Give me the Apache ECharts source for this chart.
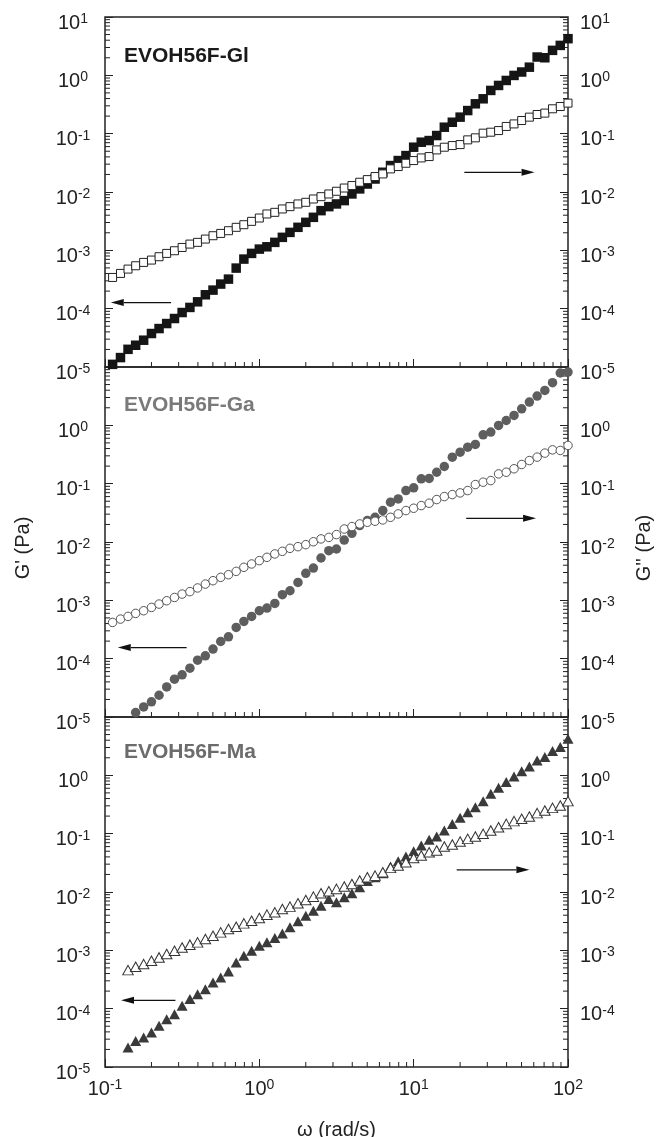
<!DOCTYPE html>
<html>
<head>
<meta charset="utf-8">
<script src="https://cdn.jsdelivr.net/npm/echarts@6/dist/echarts.min.js"></script>
<style>
  html, body { margin: 0; padding: 0; background: #fff; }
  #main { width: 657px; height: 1137px; }
</style>
</head>
<body>
<div id="main"></div>
<script>
// frequency sweep, rad/s (20 points per decade)
var omega = [0.112, 0.126, 0.141, 0.158, 0.178, 0.200, 0.224, 0.251, 0.282, 0.316,
  0.355, 0.398, 0.447, 0.501, 0.562, 0.631, 0.708, 0.794, 0.891, 1.00,
  1.12, 1.26, 1.41, 1.58, 1.78, 2.00, 2.24, 2.51, 2.82, 3.16,
  3.55, 3.98, 4.47, 5.01, 5.62, 6.31, 7.08, 7.94, 8.91, 10.0,
  11.2, 12.6, 14.1, 15.8, 17.8, 20.0, 22.4, 25.1, 28.2, 31.6,
  35.5, 39.8, 44.7, 50.1, 56.2, 63.1, 70.8, 79.4, 89.1, 100];
var omegaMa = omega.slice(2);

// EVOH56F-Gl
var glStorage = [1.11e-5, 1.45e-5, 2.01e-5, 2.36e-5, 2.88e-5, 3.75e-5, 4.56e-5, 5.56e-5, 6.78e-5, 8.59e-5,
  1.05e-4, 1.31e-4, 1.73e-4, 2.08e-4, 2.64e-4, 3.21e-4, 4.96e-4, 7.08e-4, 8.86e-4, 1.05e-3,
  1.15e-3, 1.37e-3, 1.67e-3, 2.03e-3, 2.48e-3, 3.02e-3, 3.68e-3, 4.79e-3, 5.61e-3, 6.24e-3,
  7.12e-3, 9.26e-3, 1.13e-2, 1.37e-2, 1.67e-2, 2.18e-2, 2.84e-2, 3.46e-2, 4.21e-2, 5.86e-2,
  7.14e-2, 7.62e-2, 9.29e-2, 0.129, 0.157, 0.192, 0.249, 0.325, 0.396, 0.551,
  0.671, 0.817, 0.996, 1.14, 1.38, 2.06, 2.00, 2.68, 3.26, 4.25];
var glLoss = [3.43e-4, 4.02e-4, 4.77e-4, 5.44e-4, 6.21e-4, 6.81e-4, 7.77e-4, 8.86e-4, 9.84e-4, 1.12e-3,
  1.28e-3, 1.37e-3, 1.56e-3, 1.78e-3, 1.95e-3, 2.17e-3, 2.48e-3, 2.75e-3, 3.14e-3, 3.58e-3,
  4.20e-3, 4.48e-3, 5.12e-3, 5.61e-3, 6.24e-3, 6.66e-3, 7.59e-3, 8.32e-3, 9.25e-3, 1.03e-2,
  1.17e-2, 1.29e-2, 1.47e-2, 1.63e-2, 1.84e-2, 2.04e-2, 2.49e-2, 2.73e-2, 3.11e-2, 3.46e-2,
  3.84e-2, 4.05e-2, 5.27e-2, 5.86e-2, 6.25e-2, 6.50e-2, 7.83e-2, 8.48e-2, 0.102, 0.106,
  0.113, 0.133, 0.147, 0.168, 0.192, 0.213, 0.225, 0.267, 0.292, 0.334];

// EVOH56F-Ga
var gaStorage = [8.4e-6, 8.9e-6, 9.5e-6, 1.19e-5, 1.49e-5, 1.82e-5, 2.36e-5, 3.28e-5, 4.45e-5, 5.28e-5,
  6.87e-5, 9.42e-5, 1.12e-4, 1.46e-4, 1.97e-4, 2.37e-4, 3.43e-4, 4.35e-4, 5.30e-4, 6.63e-4,
  7.36e-4, 8.86e-4, 1.25e-3, 1.46e-3, 2.03e-3, 2.90e-3, 3.58e-3, 5.32e-3, 7.11e-3, 7.59e-3,
  1.08e-2, 1.41e-2, 1.91e-2, 2.33e-2, 2.65e-2, 3.46e-2, 4.81e-2, 5.48e-2, 7.62e-2, 8.48e-2,
  0.121, 0.123, 0.157, 0.197, 0.285, 0.347, 0.423, 0.470, 0.689, 0.766,
  0.996, 1.21, 1.48, 1.92, 2.50, 3.18, 3.97, 5.38, 7.89, 8.20];
var gaLoss = [4.18e-4, 4.77e-4, 5.30e-4, 5.97e-4, 6.63e-4, 7.56e-4, 8.63e-4, 9.84e-4, 1.12e-3, 1.28e-3,
  1.41e-3, 1.63e-3, 1.90e-3, 2.17e-3, 2.48e-3, 2.75e-3, 3.14e-3, 3.68e-3, 4.20e-3, 4.79e-3,
  5.46e-3, 6.24e-3, 6.92e-3, 7.79e-3, 8.32e-3, 9.01e-3, 1.01e-2, 1.13e-2, 1.20e-2, 1.34e-2,
  1.67e-2, 1.84e-2, 2.04e-2, 2.18e-2, 2.27e-2, 2.39e-2, 2.65e-2, 3.03e-2, 3.46e-2, 3.79e-2,
  4.21e-2, 4.62e-2, 5.34e-2, 6.01e-2, 6.50e-2, 6.95e-2, 7.62e-2, 9.66e-2, 0.106, 0.113,
  0.147, 0.157, 0.180, 0.213, 0.249, 0.285, 0.334, 0.380, 0.371, 0.452];

// EVOH56F-Ma
var maStorage = [2.15e-5, 2.80e-5, 3.20e-5, 3.90e-5, 5.07e-5, 6.61e-5, 8.05e-5, 1.12e-4, 1.46e-4, 1.77e-4,
  2.16e-4, 2.81e-4, 3.43e-4, 4.35e-4, 6.21e-4, 8.07e-4, 9.84e-4, 1.20e-3, 1.37e-3, 1.63e-3,
  1.95e-3, 2.48e-3, 3.14e-3, 3.93e-3, 4.79e-3, 5.83e-3, 7.59e-3, 6.65e-3, 8.11e-3, 9.50e-3,
  1.21e-2, 1.55e-2, 1.79e-2, 2.09e-2, 2.73e-2, 3.36e-2, 4.05e-2, 5.00e-2, 6.25e-2, 7.83e-2,
  8.93e-2, 0.113, 0.147, 0.187, 0.234, 0.285, 0.361, 0.482, 0.611, 0.766,
  0.957, 1.18, 1.42, 1.80, 2.06, 2.61, 3.06, 4.25];
var maLoss = [4.58e-4, 5.23e-4, 5.81e-4, 6.63e-4, 7.56e-4, 8.63e-4, 9.84e-4, 1.12e-3, 1.25e-3, 1.37e-3,
  1.56e-3, 1.78e-3, 2.03e-3, 2.32e-3, 2.54e-3, 2.90e-3, 3.22e-3, 3.58e-3, 4.09e-3, 4.48e-3,
  5.12e-3, 5.61e-3, 6.40e-3, 7.30e-3, 8.32e-3, 9.50e-3, 1.03e-2, 1.13e-2, 1.24e-2, 1.37e-2,
  1.57e-2, 1.79e-2, 1.91e-2, 2.18e-2, 2.59e-2, 2.84e-2, 3.24e-2, 3.84e-2, 4.21e-2, 4.81e-2,
  5.13e-2, 6.01e-2, 6.50e-2, 7.32e-2, 8.14e-2, 8.93e-2, 9.93e-2, 0.113, 0.129, 0.147,
  0.164, 0.180, 0.197, 0.225, 0.249, 0.277, 0.304, 0.361];

// arrows [from omega, from G, to omega, to G]
var glArrows = [[0.268, 1.27e-4, 0.109, 1.27e-4], [21.3, 2.17e-2, 60.7, 2.17e-2]];
var gaArrows = [[0.338, 1.55e-4, 0.121, 1.55e-4], [21.9, 2.55e-2, 62.1, 2.55e-2]];
var maArrows = [[0.286, 1.39e-4, 0.127, 1.39e-4], [19.0, 2.40e-2, 56.2, 2.40e-2]];

var panelNames = ["EVOH56F-Gl", "EVOH56F-Ga", "EVOH56F-Ma"];

var FONT = "'Liberation Sans', Arial, Helvetica, sans-serif";

function zip(xs, ys) {
  return xs.map(function (x, i) { return [x, ys[i]]; });
}

// minor log ticks (2..9 per decade) along left, right and bottom edges
var minorTicks = [];
for (var k = -5; k <= 0; k++) {
  for (var m = 2; m <= 9; m++) {
    minorTicks.push([0.1, m * Math.pow(10, k), 0]);
    minorTicks.push([100, m * Math.pow(10, k), 1]);
  }
}
for (var k2 = -1; k2 <= 1; k2++) {
  for (var m2 = 2; m2 <= 9; m2++) {
    minorTicks.push([m2 * Math.pow(10, k2), 1e-5, 2]);
  }
}

function powLabel(hide) {
  return function (v) {
    var e = Math.round(Math.log10(v));
    if (hide.indexOf(e) >= 0) return "";
    return "{b|10}{s|" + e + "}";
  };
}

var rich = {
  b: { fontSize: 20, lineHeight: 20, padding: [12, 0, 0, 0], color: "#222", fontFamily: FONT },
  s: { fontSize: 14, lineHeight: 14, padding: [4, 0, 0, 0], color: "#222", fontFamily: FONT }
};

function renderTick(params, api) {
  var p = api.coord([api.value(0), api.value(1)]);
  var side = api.value(2);
  var L = 5, shape;
  if (side === 0) shape = { x1: p[0], y1: p[1], x2: p[0] + L, y2: p[1] };
  else if (side === 1) shape = { x1: p[0], y1: p[1], x2: p[0] - L, y2: p[1] };
  else shape = { x1: p[0], y1: p[1], x2: p[0], y2: p[1] - L };
  return { type: "line", shape: shape, style: { stroke: "#222", lineWidth: 1 } };
}

function renderArrow(params, api) {
  var a = api.coord([api.value(0), api.value(1)]);
  var b = api.coord([api.value(2), api.value(3)]);
  var dx = b[0] - a[0], dy = b[1] - a[1];
  var len = Math.sqrt(dx * dx + dy * dy);
  var ux = dx / len, uy = dy / len;
  var hl = 13, hw = 3.5;
  var bx = b[0] - ux * hl, by = b[1] - uy * hl;
  return {
    type: "group",
    children: [
      { type: "line", shape: { x1: a[0], y1: a[1], x2: bx, y2: by }, style: { stroke: "#111", lineWidth: 1.3 } },
      { type: "polygon", shape: { points: [b, [bx - uy * hw, by + ux * hw], [bx + uy * hw, by - ux * hw]] }, style: { fill: "#111" } }
    ]
  };
}

var myChart = echarts.init(document.getElementById("main"));

var grids = [], xAxes = [], yAxes = [], titles = [];
var leftHide = [[], [1], [1]];
var rightHide = [[], [1], [1, -5]];
var titleTops = [46, 395, 742];
var titleColors = ["#1a1a1a", "#7a7a7a", "#6c6c6c"];

for (var i = 0; i < 3; i++) {
  grids.push({
    left: 105, width: 463, top: 17 + 350 * i, height: 350,
    outerBoundsMode: "none", containLabel: false,
    show: true, borderColor: "#222", borderWidth: 1.5
  });
  xAxes.push({
    type: "log", logBase: 10, gridIndex: i, min: 0.1, max: 100,
    axisLine: { show: false },
    axisTick: { inside: true, length: 8, lineStyle: { color: "#222" } },
    splitLine: { show: false },
    axisLabel: {
      show: i === 2, margin: 6, formatter: powLabel([]), rich: rich
    },
    name: i === 2 ? "\u03c9 (rad/s)" : "",
    nameLocation: "middle", nameGap: 53,
    nameTextStyle: { fontSize: 20, color: "#222", fontFamily: FONT }
  });
  var yBase = {
    type: "log", logBase: 10, gridIndex: i, min: 1e-5, max: 10,
    axisLine: { show: false },
    axisTick: { inside: true, length: 8, lineStyle: { color: "#222" } },
    splitLine: { show: false },
    nameLocation: "middle", nameRotate: 90,
    nameTextStyle: { fontSize: 20, color: "#222", fontFamily: FONT, padding: [0, 12, 0, 0] }
  };
  yAxes.push(Object.assign({}, yBase, {
    position: "left",
    axisLabel: { margin: 32, align: "center", formatter: powLabel(leftHide[i]), rich: rich, showMinLabel: true, showMaxLabel: true },
    name: i === 1 ? "G' (Pa)" : "", nameGap: 72
  }));
  yAxes.push(Object.assign({}, yBase, {
    position: "right",
    axisLabel: { margin: 12, formatter: powLabel(rightHide[i]), rich: rich, showMinLabel: true, showMaxLabel: true },
    name: i === 1 ? "G'' (Pa)" : "", nameGap: 66
  }));
  titles.push({
    text: panelNames[i], left: 124, top: titleTops[i], padding: 0,
    textStyle: { fontSize: 21, fontWeight: "bold", color: titleColors[i], fontFamily: FONT }
  });
}

function filled(i, sym, size, color, data) {
  return {
    type: "scatter", xAxisIndex: i, yAxisIndex: 2 * i, symbol: sym, symbolSize: size,
    itemStyle: { color: color, opacity: 1 }, data: data, silent: true
  };
}
function open(i, sym, size, border, data) {
  return {
    type: "scatter", xAxisIndex: i, yAxisIndex: 2 * i + 1, symbol: sym, symbolSize: size,
    itemStyle: { color: "#fff", borderColor: border, borderWidth: 1, opacity: 1 }, data: data, silent: true
  };
}
function arrows(i, data) {
  return {
    type: "custom", xAxisIndex: i, yAxisIndex: 2 * i, renderItem: renderArrow,
    encode: { x: [0, 2], y: [1, 3] }, data: data, clip: false, silent: true
  };
}
function ticks(i) {
  return {
    type: "custom", xAxisIndex: i, yAxisIndex: 2 * i, renderItem: renderTick,
    encode: { x: 0, y: 1 }, data: minorTicks, clip: false, silent: true
  };
}

myChart.setOption({
  animation: false,
  backgroundColor: "#fff",
  textStyle: { fontFamily: FONT },
  title: titles,
  grid: grids,
  xAxis: xAxes,
  yAxis: yAxes,
  series: [
    ticks(0), ticks(1), ticks(2),
    filled(0, "rect", 9.5, "#151515", zip(omega, glStorage)),
    open(0, "rect", 8, "#222", zip(omega, glLoss)),
    arrows(0, glArrows),
    filled(1, "circle", 9.5, "#5e5e5e", zip(omega, gaStorage)),
    open(1, "circle", 8.5, "#555", zip(omega, gaLoss)),
    arrows(1, gaArrows),
    filled(2, "triangle", [11, 10], "#3a3a3a", zip(omegaMa, maStorage)),
    open(2, "triangle", [10.5, 9.5], "#333", zip(omegaMa, maLoss)),
    arrows(2, maArrows)
  ]
});
</script>
</body>
</html>
